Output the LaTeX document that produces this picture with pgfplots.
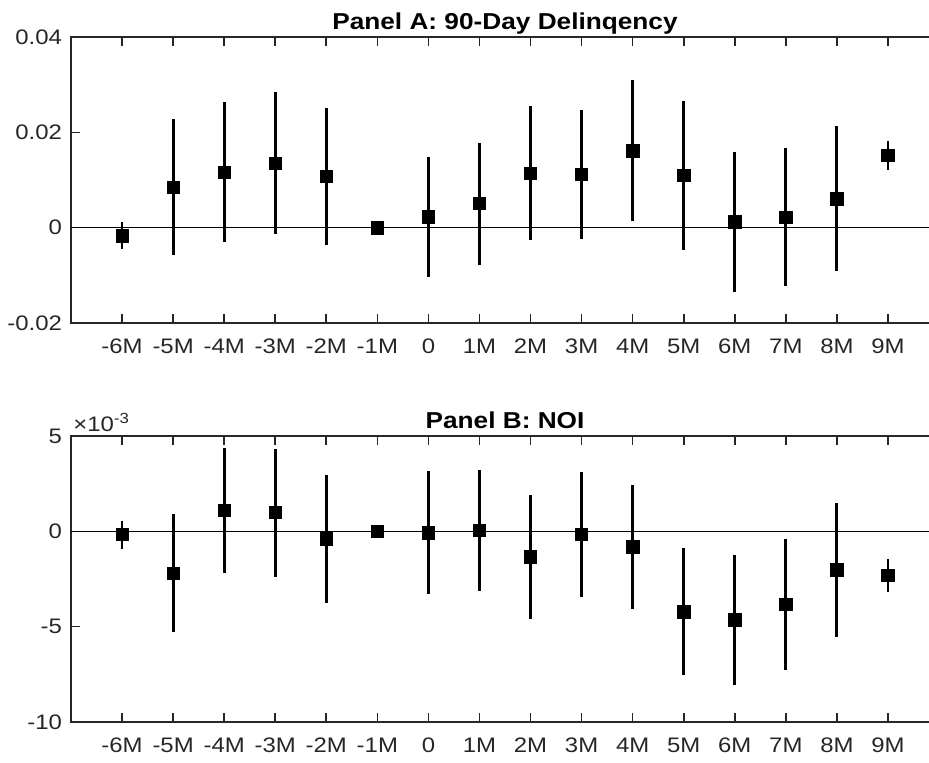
\documentclass[border=0pt]{standalone}
\usepackage{pgfplots}
\pgfplotsset{compat=1.18}
\usepackage{pgfplotstable}
\usepackage{fontspec}
\setmainfont{Liberation Sans}[FakeStretch=1.14]
\definecolor{axgray}{RGB}{38,38,38}

% x = event month index (0 = -6M ... 15 = 9M), y = estimate, hi/lo = interval ends
\pgfplotstableread{
x y hi lo
0 -0.00173 0.00120 -0.00457
1 0.00851 0.02284 -0.00581
2 0.01163 0.02630 -0.00305
3 0.01356 0.02837 -0.00131
4 0.01080 0.02512 -0.00360
5 0.00000 0.00000 0.00000
6 0.00228 0.01488 -0.01038
7 0.00505 0.01772 -0.00782
8 0.01142 0.02547 -0.00263
9 0.01121 0.02471 -0.00235
10 0.01612 0.03093 0.00131
11 0.01093 0.02650 -0.00471
12 0.00125 0.01592 -0.01350
13 0.00221 0.01661 -0.01225
14 0.00609 0.02125 -0.00913
15 0.01522 0.01820 0.01218
}\panelA

% values in units of 1e-3
\pgfplotstableread{
x y hi lo
0 -0.17 0.52 -0.92
1 -2.20 0.89 -5.28
2 1.11 4.37 -2.16
3 0.99 4.30 -2.37
4 -0.40 2.94 -3.75
5 0.00 0.00 0.00
6 -0.07 3.14 -3.31
7 0.05 3.24 -3.15
8 -1.34 1.92 -4.60
9 -0.16 3.10 -3.43
10 -0.82 2.44 -4.08
11 -4.22 -0.89 -7.54
12 -4.65 -1.22 -8.07
13 -3.83 -0.40 -7.25
14 -2.02 1.48 -5.52
15 -2.32 -1.43 -3.19
}\panelB

\pgfplotsset{
  panel/.style={
    scale only axis, width=434pt, height=143pt,
    xmin=-1, xmax=16,
    xtick={0,...,15},
    xticklabels={-6M,-5M,-4M,-3M,-2M,-1M,0,1M,2M,3M,4M,5M,6M,7M,8M,9M},
    scaled y ticks=false, scaled x ticks=false,
    tick align=inside, xtick pos=both, ytick pos=left,
    major tick length=4.5pt,
    axis line style={axgray, line width=0.8pt},
    tick style={axgray, line width=0.8pt},
    ticklabel style={font=\fontsize{10.5}{12}\selectfont, text=axgray},
    xticklabel style={yshift=-4.5pt},
    yticklabel style={xshift=-1pt},
    title style={font=\bfseries\fontsize{11.5}{13}\selectfont, at={(0.5,1)}, anchor=base, yshift=-2.25pt},
    clip=false,
  },
  est/.style={
    only marks, mark=square*, mark size=3.1pt,
    mark options={fill=black, draw=black, line width=0.3pt},
    error bars/.cd, y dir=both, y explicit,
    error bar style={line width=1.4pt, black}, error mark=none,
  },
}

\begin{document}
\begin{tikzpicture}
\path[use as bounding box] (-35.5pt,18.5pt) rectangle (429pt,-363pt);

\begin{axis}[panel, at={(0,0)}, anchor=north west,
  title={Panel A: 90-Day Delinqency},
  ymin=-0.02, ymax=0.04,
  ytick={-0.02,0,0.02,0.04},
  yticklabels={-0.02,0,0.02,0.04},
]
\addplot[black, line width=0.5pt] coordinates {(-1,0) (16,0)};
\addplot[est] table[x=x, y=y,
  y error plus expr=\thisrow{hi}-\thisrow{y},
  y error minus expr=\thisrow{y}-\thisrow{lo}] {\panelA};
\end{axis}

\begin{axis}[panel, at={(0,-199.5pt)}, anchor=north west,
  title={Panel B: NOI},
  ymin=-10, ymax=5,
  ytick={-10,-5,0,5},
  yticklabels={-10,-5,0,5},
]
\addplot[black, line width=0.5pt] coordinates {(-1,0) (16,0)};
\addplot[est] table[x=x, y=y,
  y error plus expr=\thisrow{hi}-\thisrow{y},
  y error minus expr=\thisrow{y}-\thisrow{lo}] {\panelB};
\node[anchor=base west, text=axgray, font=\fontsize{10.5}{12}\selectfont, inner sep=0pt]
  at (rel axis cs:0,1) [xshift=1pt, yshift=2.2pt] {×10\textsuperscript{-3}};
\end{axis}
\end{tikzpicture}
\end{document}
